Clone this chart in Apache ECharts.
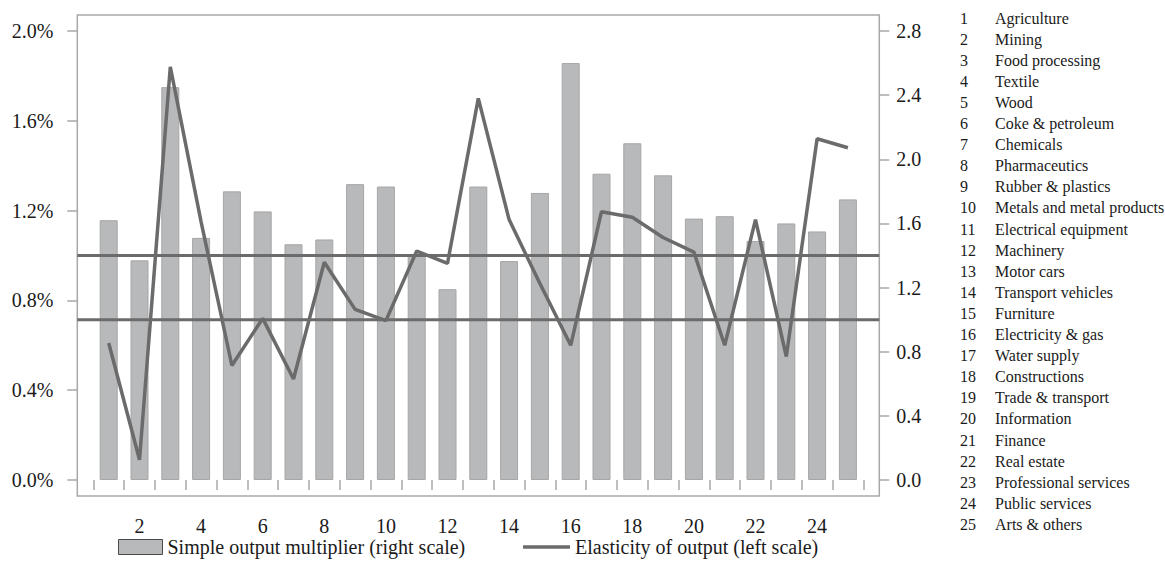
<!DOCTYPE html>
<html><head><meta charset="utf-8">
<script src="https://cdn.jsdelivr.net/npm/echarts@6/dist/echarts.min.js"></script>
<style>html,body{margin:0;padding:0;background:#fff}#c{width:1165px;height:583px}</style>
</head><body><div id="c"></div>
<script>
// ---------- data ----------
const sectorNumbers = ['1','2','3','4','5','6','7','8','9','10','11','12','13','14','15','16','17','18','19','20','21','22','23','24','25'];
const sectorNames = ['Agriculture','Mining','Food processing','Textile','Wood','Coke & petroleum','Chemicals','Pharmaceutics','Rubber & plastics','Metals and metal products','Electrical equipment','Machinery','Motor cars','Transport vehicles','Furniture','Electricity & gas','Water supply','Constructions','Trade & transport','Information','Finance','Real estate','Professional services','Public services','Arts & others'];
// simple output multiplier (right scale)
const multiplier = [1.62,1.37,2.45,1.51,1.80,1.675,1.47,1.50,1.845,1.83,1.40,1.19,1.83,1.365,1.79,2.60,1.91,2.10,1.90,1.63,1.645,1.49,1.60,1.55,1.75];
// elasticity of output, % (left scale)
const elasticity = [0.61,0.09,1.84,1.15,0.51,0.72,0.45,0.97,0.76,0.71,1.02,0.965,1.70,1.16,0.875,0.60,1.195,1.17,1.08,1.015,0.60,1.16,0.55,1.52,1.48];
const leftTicks = [0.0,0.4,0.8,1.2,1.6,2.0];
const rightTicks = [0.0,0.4,0.8,1.2,1.6,2.0,2.4,2.8];
const refElasticity = 1.0;   // horizontal line, left scale (%)
const refMultiplier = 1.0;   // horizontal line, right scale
const barName = 'Simple output multiplier (right scale)';
const lineName = 'Elasticity of output (left scale)';

// ---------- layout ----------
const W = 1165, H = 583;
const FONT = '"Liberation Serif", "DejaVu Serif", serif';
const TXT = '#1a1a1a';
const FRAME = '#a8a8a8';
const LINE = '#6b6b6b';
const inner = {left: 93.3, top: 31, right: W - 863.3, bottom: H - 480};
const pad = 16;
const outer = {left: inner.left - pad, top: inner.top - pad, right: inner.right - pad, bottom: inner.bottom - pad};
const innerH = H - inner.top - inner.bottom;
const leftMin = leftTicks[0], leftMax = leftTicks[leftTicks.length - 1];
const rightMin = rightTicks[0], rightMax = rightTicks[rightTicks.length - 1];
const leftExt = pad / innerH * (leftMax - leftMin);
const rightExt = pad / innerH * (rightMax - rightMin);

const chart = echarts.init(document.getElementById('c'), null, {renderer: 'svg', width: W, height: H});

const listGraphics = [];
const listTop = 19, listStep = 21.1;
sectorNames.forEach((name, i) => {
  listGraphics.push({type: 'text', left: 960, top: listTop + i * listStep - 9,
    style: {text: sectorNumbers[i], font: '16px ' + FONT, fill: TXT}});
  listGraphics.push({type: 'text', left: 995, top: listTop + i * listStep - 9,
    style: {text: name, font: '16px ' + FONT, fill: TXT}});
});

const tickStyle = {color: FRAME, width: 1.5};
const labelStyle = {fontFamily: FONT, fontSize: 20, color: TXT};

chart.setOption({
  animation: false,
  backgroundColor: '#fff',
  grid: [
    {left: inner.left, right: inner.right, top: inner.top, bottom: inner.bottom},
    {left: outer.left, right: outer.right, top: outer.top, bottom: outer.bottom, show: true, borderColor: FRAME, borderWidth: 1.5, backgroundColor: 'transparent'}
  ],
  xAxis: [
    {type: 'category', gridIndex: 0, data: sectorNumbers, offset: pad,
      axisLine: {show: false},
      axisTick: {show: true, interval: 0, length: 10, lineStyle: tickStyle},
      axisLabel: Object.assign({interval: (i) => i % 2 === 1, margin: 20}, labelStyle),
      splitLine: {show: false}},
    {type: 'value', gridIndex: 1, min: 0, max: 1, show: false}
  ],
  yAxis: [
    {type: 'value', gridIndex: 0, position: 'left', min: leftMin, max: leftMax, interval: leftTicks[1] - leftTicks[0], offset: pad,
      axisLine: {show: false},
      axisTick: {show: true, length: 10, lineStyle: tickStyle},
      axisLabel: Object.assign({margin: 24, formatter: v => v.toFixed(1) + '%'}, labelStyle),
      splitLine: {show: false}},
    {type: 'value', gridIndex: 0, position: 'right', min: rightMin, max: rightMax, interval: rightTicks[1] - rightTicks[0], offset: pad,
      axisLine: {show: false},
      axisTick: {show: true, length: 10, lineStyle: tickStyle},
      axisLabel: Object.assign({margin: 17, formatter: v => v.toFixed(1)}, labelStyle),
      splitLine: {show: false}},
    {type: 'value', gridIndex: 1, min: leftMin - leftExt, max: leftMax + leftExt, show: false},
    {type: 'value', gridIndex: 1, min: rightMin - rightExt, max: rightMax + rightExt, show: false}
  ],
  legend: [
    {data: [{name: barName, icon: 'rect', itemStyle: {borderColor: '#4a4a4a', borderWidth: 1}}], left: 113, top: 532,
      itemWidth: 44, itemHeight: 15, textStyle: {fontFamily: FONT, fontSize: 20, color: TXT}, selectedMode: false},
    {data: [{name: lineName, icon: 'rect', itemStyle: {color: LINE, borderWidth: 0}}], left: 518, top: 532, itemWidth: 47, itemHeight: 3.5,
      textStyle: {fontFamily: FONT, fontSize: 20, color: TXT}, selectedMode: false}
  ],
  graphic: listGraphics,
  series: [
    {name: barName, type: 'bar', xAxisIndex: 0, yAxisIndex: 1, data: multiplier, barWidth: 18,
      itemStyle: {color: '#b8b9bb', borderColor: '#a6a6a6', borderWidth: 1}, z: 2},
    {name: 'refE', type: 'line', xAxisIndex: 1, yAxisIndex: 2, data: [[0, refElasticity], [1, refElasticity]],
      symbol: 'none', silent: true, lineStyle: {color: LINE, width: 3}, z: 3},
    {name: 'refM', type: 'line', xAxisIndex: 1, yAxisIndex: 3, data: [[0, refMultiplier], [1, refMultiplier]],
      symbol: 'none', silent: true, lineStyle: {color: LINE, width: 3}, z: 3},
    {name: lineName, type: 'line', xAxisIndex: 0, yAxisIndex: 0, data: elasticity,
      symbol: 'none', showSymbol: false, lineStyle: {color: LINE, width: 3.5}, itemStyle: {color: LINE}, z: 4}
  ]
});
</script></body></html>
